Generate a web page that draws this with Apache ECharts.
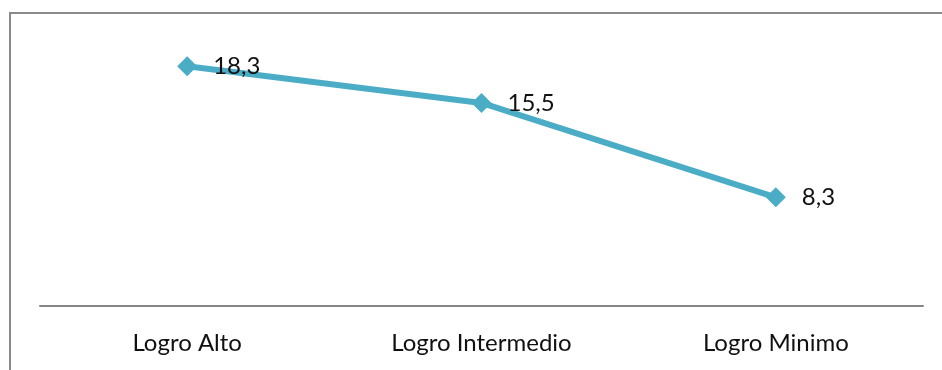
<!DOCTYPE html>
<html>
<head>
    <meta charset="UTF-8">
    <title>Logro</title>
    <script src="https://cdn.jsdelivr.net/npm/echarts@6/dist/echarts.min.js"></script>
    <style>
        html, body { margin: 0; padding: 0; background: #fff; }
        #chart { width: 942px; height: 370px; }
    </style>
</head>
<body>
<div id="chart"></div>
<script>
    // datos
    var categorias = ['Logro Alto', 'Logro Intermedio', 'Logro Minimo'];
    var valores = [18.3, 15.5, 8.3];

    var chart = echarts.init(document.getElementById('chart'));
    chart.setOption({
        animation: false,
        textStyle: {fontFamily: 'Lato, "Open Sans", sans-serif'},
        grid: {left: 40, right: 19, top: 44, bottom: 64},
        graphic: [{
            type: 'rect',
            shape: {x: 10, y: 13, width: 1000, height: 400},
            style: {fill: 'none', stroke: '#8a8a8a', lineWidth: 2}
        }],
        xAxis: {
            type: 'category',
            data: categorias,
            axisTick: {show: false},
            axisLine: {lineStyle: {color: '#868686', width: 2}},
            axisLabel: {color: '#111', fontSize: 24, margin: 25}
        },
        yAxis: {
            type: 'value',
            min: 0,
            max: 20,
            show: false
        },
        series: [{
            type: 'line',
            data: valores,
            symbol: 'diamond',
            symbolSize: 20,
            itemStyle: {color: '#4bacc6'},
            lineStyle: {color: '#4bacc6', width: 6},
            label: {
                show: true,
                position: 'right',
                distance: 16,
                color: '#111',
                fontSize: 24,
                formatter: function (p) { return String(p.value).replace('.', ','); }
            }
        }]
    });
</script>
</body>
</html>
